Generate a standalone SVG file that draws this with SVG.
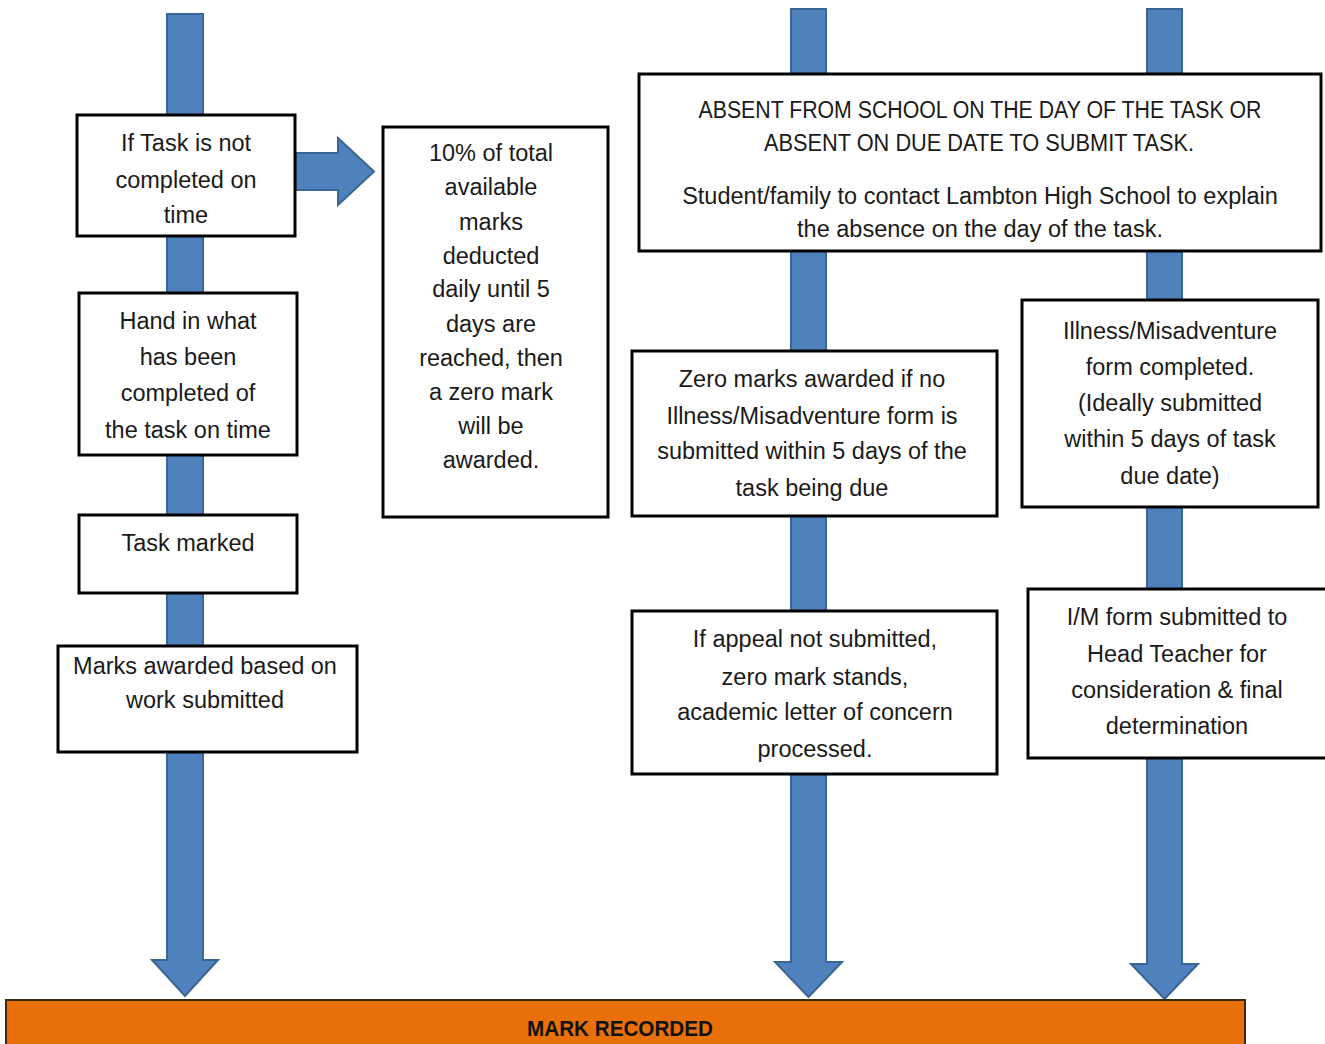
<svg xmlns="http://www.w3.org/2000/svg" width="1325" height="1044" viewBox="0 0 1325 1044">
<style>
.box{fill:#fff;stroke:#000;stroke-width:3}
.arr{fill:#4F81BD;stroke:#3A6694;stroke-width:2;stroke-linejoin:miter}
.t{font-family:"Liberation Sans",Arial,sans-serif;font-size:23.5px;fill:#1a1a1a;text-anchor:middle}
</style>
<rect width="1325" height="1044" fill="#fff"/>
<g id="connectors">
<path class="arr" d="M167,14 H203 V960 H218 L185,996 L152,960 H167 Z"/>
<path class="arr" d="M791,9 H826 V962 H842 L808.5,997 L775,962 H791 Z"/>
<path class="arr" d="M1147,9 H1182 V964 H1198 L1164.5,999 L1131,964 H1147 Z"/>
<path class="arr" d="M296,153 H338 V138 L374,171.5 L338,205 V190 H296 Z"/>
</g>
<g id="n1"><rect class="box" x="77" y="115" width="218" height="121"/>
<text class="t" x="186" y="151">If Task is not</text><text class="t" x="186" y="188">completed on</text><text class="t" x="186" y="223">time</text></g>
<g id="n2"><rect class="box" x="79" y="293" width="218" height="162"/>
<text class="t" x="188" y="329">Hand in what</text><text class="t" x="188" y="365">has been</text><text class="t" x="188" y="401">completed of</text><text class="t" x="188" y="438">the task on time</text></g>
<g id="n3"><rect class="box" x="79" y="515" width="218" height="78"/>
<text class="t" x="188" y="551">Task marked</text></g>
<g id="n4"><rect class="box" x="58" y="646" width="299" height="106"/>
<text class="t" x="205" y="674">Marks awarded based on</text><text class="t" x="205" y="708">work submitted</text></g>
<g id="n5"><rect class="box" x="383" y="127" width="225" height="390"/>
<text class="t" x="491" y="161">10% of total</text><text class="t" x="491" y="195">available</text><text class="t" x="491" y="230">marks</text><text class="t" x="491" y="264">deducted</text><text class="t" x="491" y="297">daily until 5</text><text class="t" x="491" y="332">days are</text><text class="t" x="491" y="366">reached, then</text><text class="t" x="491" y="400">a zero mark</text><text class="t" x="491" y="434">will be</text><text class="t" x="491" y="468">awarded.</text></g>
<g id="n6"><rect class="box" x="639" y="74" width="682" height="177"/>
<text class="t" x="980" y="118" textLength="563" lengthAdjust="spacingAndGlyphs">ABSENT FROM SCHOOL ON THE DAY OF THE TASK OR</text><text class="t" x="979" y="151" textLength="430" lengthAdjust="spacingAndGlyphs">ABSENT ON DUE DATE TO SUBMIT TASK.</text><text class="t" x="980" y="204">Student/family to contact Lambton High School to explain</text><text class="t" x="980" y="237">the absence on the day of the task.</text></g>
<g id="n7"><rect class="box" x="632" y="351" width="365" height="165"/>
<text class="t" x="812" y="387">Zero marks awarded if no</text><text class="t" x="812" y="424">Illness/Misadventure form is</text><text class="t" x="812" y="459">submitted within 5 days of the</text><text class="t" x="812" y="496">task being due</text></g>
<g id="n8"><rect class="box" x="1022" y="300" width="296" height="207"/>
<text class="t" x="1170" y="339">Illness/Misadventure</text><text class="t" x="1170" y="375">form completed.</text><text class="t" x="1170" y="411">(Ideally submitted</text><text class="t" x="1170" y="447">within 5 days of task</text><text class="t" x="1170" y="484">due date)</text></g>
<g id="n9"><rect class="box" x="632" y="611" width="365" height="163"/>
<text class="t" x="815" y="647">If appeal not submitted,</text><text class="t" x="815" y="685">zero mark stands,</text><text class="t" x="815" y="720">academic letter of concern</text><text class="t" x="815" y="757">processed.</text></g>
<g id="n10"><rect class="box" x="1028" y="589" width="299" height="169"/>
<text class="t" x="1177" y="625">I/M form submitted to</text><text class="t" x="1177" y="662">Head Teacher for</text><text class="t" x="1177" y="698">consideration &amp; final</text><text class="t" x="1177" y="734">determination</text></g>
<g id="n11"><rect x="6" y="1000" width="1239" height="50" fill="#E97008" stroke="#3a2a10" stroke-width="2"/>
<text x="620" y="1036" font-family="Liberation Sans,Arial,sans-serif" font-size="22" font-weight="bold" text-anchor="middle" fill="#111" textLength="186" lengthAdjust="spacingAndGlyphs">MARK RECORDED</text></g>
</svg>
